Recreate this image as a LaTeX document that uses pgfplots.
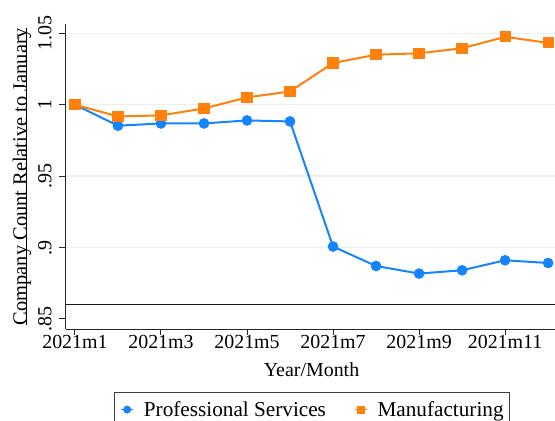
\documentclass[border=0pt]{standalone}
\usepackage{fontspec}
\setmainfont{Liberation Serif}
\usepackage{pgfplots}
\pgfplotsset{compat=1.18}
\definecolor{psblue}{RGB}{20,133,255}
\definecolor{mforange}{RGB}{255,128,10}
\definecolor{gridc}{RGB}{232,240,242}
\newsavebox\ylbox
\begin{document}
\begin{tikzpicture}
\useasboundingbox (0,0) rectangle (555bp,421bp);
\clip (0,0) rectangle (555bp,421bp);
\begin{axis}[
 at={(65.5bp,92bp)}, anchor=south west,
 scale only axis, width=489.5bp, height=305bp,
 xmin=0.78, xmax=12.16, ymin=0.843, ymax=1.0565,
 axis x line*=bottom, axis y line*=left,
 axis line style={-, black!85, line width=1bp},
 xtick={1,3,5,7,9,11},
 xticklabels={2021m1,2021m3,2021m5,2021m7,2021m9,2021m11},
 ytick={0.9,0.95,1,1.05}, yticklabels={.9,.95,1,1.05},
 extra y ticks={0.85}, extra y tick labels={.85},
 extra y tick style={grid=none},
 ymajorgrids, grid style={gridc, line width=1.3bp},
 tick align=outside, major tick length=6bp,
 tick style={black!85, line width=1bp},
 minor tick num=0,
 ticklabel style={font=\fontsize{20}{24}\selectfont, inner sep=0pt},
 yticklabel style={rotate=90, anchor=base},
 yticklabel shift=8bp,
 xticklabel style={anchor=north},
 xlabel={Year/Month},
 xlabel style={at={(axis description cs:0.5026,0)}, anchor=base, yshift=-47.7bp, font=\fontsize{20}{24}\selectfont, inner sep=0pt},
 ylabel={\sbox\ylbox{Company Count Relative to January}\rlap{\rule[-0.3bp]{\wd\ylbox}{1bp}}\usebox\ylbox},
 ylabel style={at={(axis description cs:-0.0787,0.5)}, anchor=base, font=\fontsize{20.5}{24}\selectfont, inner sep=0pt},
 legend columns=2,
 legend style={at={(axis description cs:0.5036,-0.2066)}, anchor=north,
   draw=black!75, line width=0.8bp, font=\fontsize{21.3}{25}\selectfont,
   inner xsep=6bp, inner ysep=9bp, nodes={inner sep=0pt},
   /tikz/every odd column/.append style={column sep=10bp},
   /tikz/every even column/.append style={column sep=28bp}},
 legend image code/.code={\draw[mark repeat=2,mark phase=2,#1,mark size=3.2bp,line width=1.5bp] plot coordinates {(0bp,0bp)(6bp,0bp)(12bp,0bp)};},
]
\addplot[black!90, line width=1.3bp, forget plot] coordinates {(0.5,0.86)(12.5,0.86)};
\addplot[psblue, line width=2bp, mark=*, mark size=4.3bp, mark options={solid, fill=psblue, draw=psblue}] coordinates {
(1,1.0)(2,0.9853)(3,0.9869)(4,0.9869)(5,0.9890)(6,0.9883)(7,0.9007)(8,0.8871)(9,0.8818)(10,0.8841)(11,0.8911)(12,0.8892)};
\addlegendentry{Professional Services}
\addplot[mforange, line width=2bp, mark=square*, mark size=4.6bp, mark options={solid, fill=mforange, draw=mforange}] coordinates {
(1,1.0)(2,0.9918)(3,0.9925)(4,0.9974)(5,1.0051)(6,1.0093)(7,1.0292)(8,1.0350)(9,1.0360)(10,1.0395)(11,1.0475)(12,1.0433)};
\addlegendentry{Manufacturing}
\end{axis}
\end{tikzpicture}
\end{document}
